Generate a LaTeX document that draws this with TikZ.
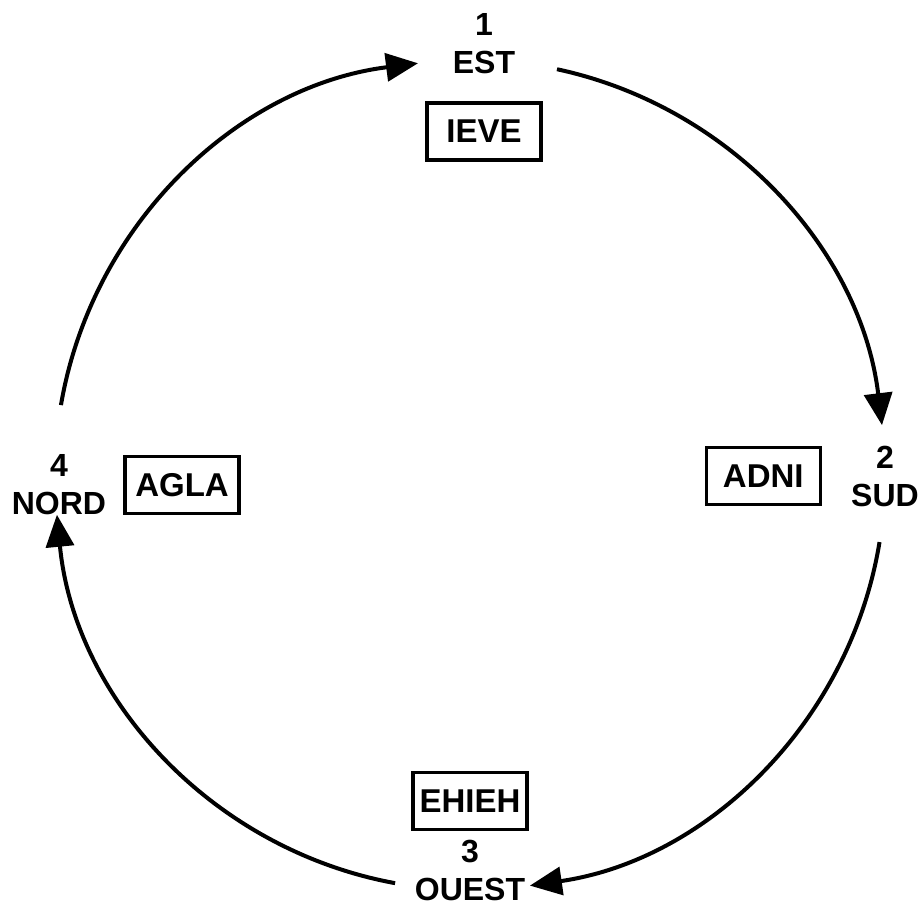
\documentclass[tikz,border=0pt]{standalone}
\usepackage{fontspec}
\setmainfont{Liberation Sans}
\usetikzlibrary{positioning,arrows.meta,calc}
\tikzset{
  >={Triangle[length=32pt,width=28pt]},
  pt/.style={align=center, inner sep=0pt, font=\fontsize{32}{38}\selectfont\bfseries},
  tag/.style={draw, line width=3.5pt, minimum width=114pt, minimum height=57pt,
              inner sep=0pt, font=\fontsize{33}{38}\selectfont\bfseries},
  flow/.style={->, line width=4pt},
}
\begin{document}
\begin{tikzpicture}[x=1pt,y=1pt]
  \useasboundingbox (0,0) rectangle (922,906);
  \coordinate (o) at (470,431);
  \node[pt] (est) at (484,862) {1\\EST};
  \node[pt] (sud) at (885,430) {2\\SUD};
  \node[pt] (ouest) at (470,36) {3\\OUEST};
  \node[pt] (nord) at (59,421) {4\\NORD};
  \node[tag,below=27pt of est] (ieve) {IEVE};
  \node[tag,left=29pt of sud] (adni) {ADNI};
  \node[tag,above=8pt of ouest] (ehieh) {EHIEH};
  \node[tag,right=17pt of nord] (agla) {AGLA};
  \foreach \s/\e in {170.3/97.2, 77.9/6.9, -9.3/-81.7, -100.4/-174.5}
    \draw[flow] ($(o)+(\s:415)$) arc[start angle=\s, end angle=\e, radius=415];
\end{tikzpicture}
\end{document}
